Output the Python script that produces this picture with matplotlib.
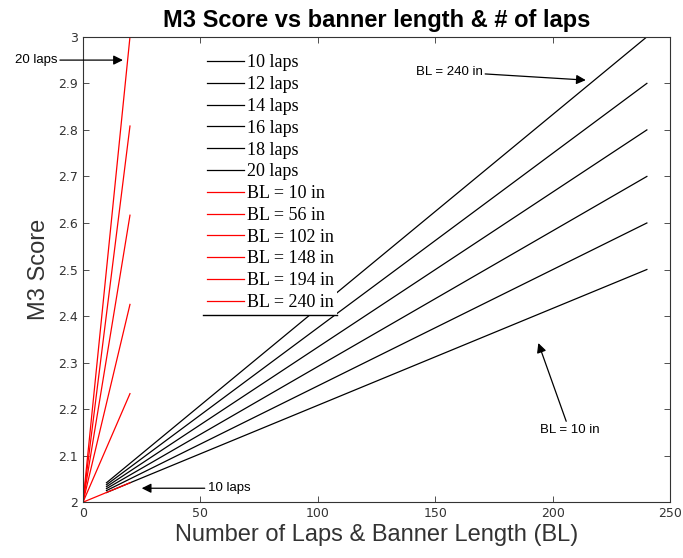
import matplotlib.pyplot as plt
import numpy as np

# laps and banner lengths (inches)
laps = [10, 12, 14, 16, 18, 20]
banner_lengths = [10, 56, 102, 148, 194, 240]

# M3 score for each lap count, read at BL = 10 and BL = 240
score_bl10 = [2.0208, 2.025, 2.0292, 2.0333, 2.0375, 2.0417]
score_bl240 = [2.5, 2.6, 2.7, 2.8, 2.9, 3.0]

# red lines: score vs laps (0 -> 20) for each banner length
red_x = [0, 20]
red_end = [2.0417, 2.2333, 2.425, 2.6167, 2.8083, 3.0]

fig = plt.figure(figsize=(6.83, 5.58), dpi=100)
ax = fig.add_axes([0.1215, 0.1, 0.86, 0.834])

handles = []
for i, n in enumerate(laps):
    h, = ax.plot([banner_lengths[0], banner_lengths[-1]], [score_bl10[i], score_bl240[i]],
                 color='black', lw=0.9, label=f'{n} laps')
    handles.append(h)
for i, bl in enumerate(banner_lengths):
    h, = ax.plot(red_x, [2.0, red_end[i]], color='red', lw=0.9, label=f'BL = {bl} in')
    handles.append(h)

ax.set_xlim(0, 250)
ax.set_ylim(2, 3)
ax.set_xticks([0, 50, 100, 150, 200, 250])
ax.set_yticks(np.round(np.arange(2, 3.01, 0.1), 1))
ax.set_yticklabels(['2', '2.1', '2.2', '2.3', '2.4', '2.5', '2.6', '2.7', '2.8', '2.9', '3'])
ax.tick_params(direction='in', length=4, labelsize=9, width=0.6, top=True, right=True,
               labeltop=False, labelright=False, colors='#333333')
for s in ax.spines.values():
    s.set_linewidth(0.8)
    s.set_color('#333333')

ax.set_title('M3 Score vs banner length & # of laps', fontsize=17, fontweight='bold',
             family='Liberation Sans', pad=7)
ax.set_xlabel('Number of Laps & Banner Length (BL)', fontsize=17, family='Liberation Sans',
              color='#333333', labelpad=3)
ax.set_ylabel('M3 Score', fontsize=17, family='Liberation Sans', color='#333333', labelpad=6)

leg = ax.legend(handles=handles, loc='upper left', bbox_to_anchor=(0.205, 0.97),
                prop={'family': 'Liberation Serif', 'size': 13}, frameon=True,
                fancybox=False, handlelength=2.05, handletextpad=0.15,
                labelspacing=0.265, borderpad=0.2, borderaxespad=0)
leg.get_frame().set_edgecolor('none')
leg.get_frame().set_facecolor('white')
leg.get_frame().set_alpha(1)
fig.canvas.draw()
bb = leg.get_window_extent().transformed(ax.transAxes.inverted())
ax.plot([bb.x0, bb.x1], [bb.y0, bb.y0], transform=ax.transAxes, color='black', lw=1, zorder=10)

arrow = dict(arrowstyle='-|>', color='black', lw=0.9, mutation_scale=14, shrinkA=0, shrinkB=0)
ax.annotate('20 laps', xy=(17, 2.95), xytext=(-11, 2.95), fontsize=9.5,
            family='Liberation Sans', va='center', ha='right', arrowprops=arrow,
            annotation_clip=False)
ax.annotate('BL = 240 in', xy=(214, 2.907), xytext=(170, 2.925), fontsize=9.5,
            family='Liberation Sans', va='center', ha='right', arrowprops=arrow)
ax.annotate('BL = 10 in', xy=(193.8, 2.342), xytext=(207, 2.155), fontsize=9.5,
            family='Liberation Sans', va='center', ha='center', arrowprops=arrow)
ax.annotate('10 laps', xy=(25, 2.03), xytext=(53, 2.03), fontsize=9.5,
            family='Liberation Sans', va='center', ha='left', arrowprops=arrow)

fig.savefig('out.png', dpi=100)
